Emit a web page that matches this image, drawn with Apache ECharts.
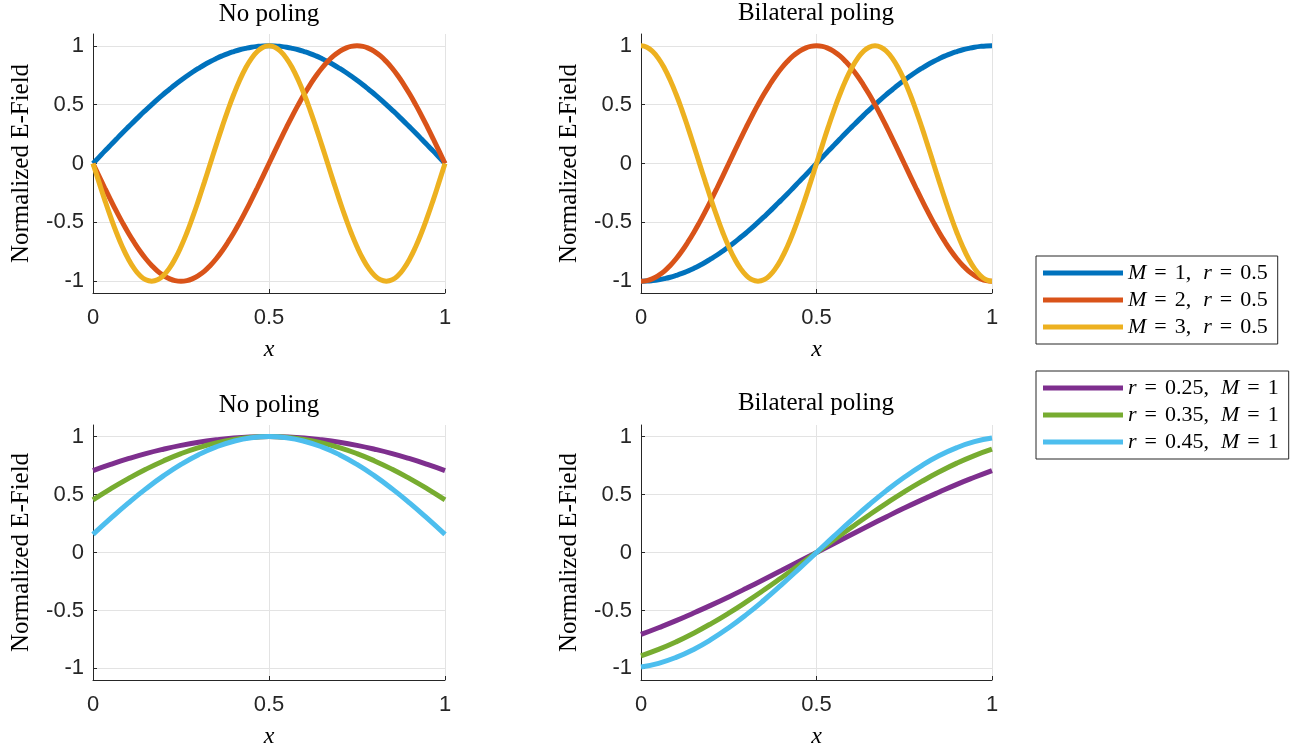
<!DOCTYPE html>
<html>
<head>
<meta charset="utf-8">
<script src="https://cdn.jsdelivr.net/npm/echarts@6/dist/echarts.min.js"></script>
<style>html,body{margin:0;padding:0;background:#fff;}#c{width:1304px;height:750px;}</style>
</head>
<body>
<div id="c"></div>
<script>
// x sample positions
var x60 = [0,0.0167,0.0333,0.05,0.0667,0.0833,0.1,0.1167,0.1333,0.15,0.1667,0.1833,0.2,0.2167,0.2333,0.25,0.2667,0.2833,0.3,0.3167,0.3333,0.35,0.3667,0.3833,0.4,0.4167,0.4333,0.45,0.4667,0.4833,0.5,0.5167,0.5333,0.55,0.5667,0.5833,0.6,0.6167,0.6333,0.65,0.6667,0.6833,0.7,0.7167,0.7333,0.75,0.7667,0.7833,0.8,0.8167,0.8333,0.85,0.8667,0.8833,0.9,0.9167,0.9333,0.95,0.9667,0.9833,1];
var x20 = [0,0.05,0.1,0.15,0.2,0.25,0.3,0.35,0.4,0.45,0.5,0.55,0.6,0.65,0.7,0.75,0.8,0.85,0.9,0.95,1];

// Top-left: No poling, r = 0.5
var noPolM1 = [0,0.052,0.105,0.156,0.208,0.259,0.309,0.358,0.407,0.454,0.5,0.545,0.588,0.629,0.669,0.707,0.743,0.777,0.809,0.839,0.866,0.891,0.914,0.934,0.951,0.966,0.978,0.988,0.995,0.999,1,0.999,0.995,0.988,0.978,0.966,0.951,0.934,0.914,0.891,0.866,0.839,0.809,0.777,0.743,0.707,0.669,0.629,0.588,0.545,0.5,0.454,0.407,0.358,0.309,0.259,0.208,0.156,0.105,0.052,0];
var noPolM2 = [0,-0.105,-0.208,-0.309,-0.407,-0.5,-0.588,-0.669,-0.743,-0.809,-0.866,-0.914,-0.951,-0.978,-0.995,-1,-0.995,-0.978,-0.951,-0.914,-0.866,-0.809,-0.743,-0.669,-0.588,-0.5,-0.407,-0.309,-0.208,-0.105,0,0.105,0.208,0.309,0.407,0.5,0.588,0.669,0.743,0.809,0.866,0.914,0.951,0.978,0.995,1,0.995,0.978,0.951,0.914,0.866,0.809,0.743,0.669,0.588,0.5,0.407,0.309,0.208,0.105,0];
var noPolM3 = [0,-0.156,-0.309,-0.454,-0.588,-0.707,-0.809,-0.891,-0.951,-0.988,-1,-0.988,-0.951,-0.891,-0.809,-0.707,-0.588,-0.454,-0.309,-0.156,0,0.156,0.309,0.454,0.588,0.707,0.809,0.891,0.951,0.988,1,0.988,0.951,0.891,0.809,0.707,0.588,0.454,0.309,0.156,0,-0.156,-0.309,-0.454,-0.588,-0.707,-0.809,-0.891,-0.951,-0.988,-1,-0.988,-0.951,-0.891,-0.809,-0.707,-0.588,-0.454,-0.309,-0.156,0];

// Top-right: Bilateral poling, r = 0.5
var biPolM1 = [-1,-0.999,-0.995,-0.988,-0.978,-0.966,-0.951,-0.934,-0.914,-0.891,-0.866,-0.839,-0.809,-0.777,-0.743,-0.707,-0.669,-0.629,-0.588,-0.545,-0.5,-0.454,-0.407,-0.358,-0.309,-0.259,-0.208,-0.156,-0.105,-0.052,0,0.052,0.105,0.156,0.208,0.259,0.309,0.358,0.407,0.454,0.5,0.545,0.588,0.629,0.669,0.707,0.743,0.777,0.809,0.839,0.866,0.891,0.914,0.934,0.951,0.966,0.978,0.988,0.995,0.999,1];
var biPolM2 = [-1,-0.995,-0.978,-0.951,-0.914,-0.866,-0.809,-0.743,-0.669,-0.588,-0.5,-0.407,-0.309,-0.208,-0.105,0,0.105,0.208,0.309,0.407,0.5,0.588,0.669,0.743,0.809,0.866,0.914,0.951,0.978,0.995,1,0.995,0.978,0.951,0.914,0.866,0.809,0.743,0.669,0.588,0.5,0.407,0.309,0.208,0.105,0,-0.105,-0.208,-0.309,-0.407,-0.5,-0.588,-0.669,-0.743,-0.809,-0.866,-0.914,-0.951,-0.978,-0.995,-1];
var biPolM3 = [1,0.988,0.951,0.891,0.809,0.707,0.588,0.454,0.309,0.156,0,-0.156,-0.309,-0.454,-0.588,-0.707,-0.809,-0.891,-0.951,-0.988,-1,-0.988,-0.951,-0.891,-0.809,-0.707,-0.588,-0.454,-0.309,-0.156,0,0.156,0.309,0.454,0.588,0.707,0.809,0.891,0.951,0.988,1,0.988,0.951,0.891,0.809,0.707,0.588,0.454,0.309,0.156,0,-0.156,-0.309,-0.454,-0.588,-0.707,-0.809,-0.891,-0.951,-0.988,-1];

// Bottom-left: No poling, M = 1
var noPolR25 = [0.707,0.760,0.809,0.853,0.891,0.924,0.951,0.972,0.988,0.997,1,0.997,0.988,0.972,0.951,0.924,0.891,0.853,0.809,0.760,0.707];
var noPolR35 = [0.454,0.549,0.637,0.718,0.790,0.853,0.905,0.946,0.976,0.994,1,0.994,0.976,0.946,0.905,0.853,0.790,0.718,0.637,0.549,0.454];
var noPolR45 = [0.156,0.294,0.426,0.549,0.661,0.760,0.844,0.911,0.960,0.990,1,0.990,0.960,0.911,0.844,0.760,0.661,0.549,0.426,0.294,0.156];

// Bottom-right: Bilateral poling, M = 1
var biPolR25 = [-0.707,-0.649,-0.588,-0.522,-0.454,-0.383,-0.309,-0.233,-0.156,-0.078,0,0.078,0.156,0.233,0.309,0.383,0.454,0.522,0.588,0.649,0.707];
var biPolR35 = [-0.891,-0.836,-0.771,-0.696,-0.613,-0.523,-0.426,-0.324,-0.218,-0.110,0,0.110,0.218,0.324,0.426,0.523,0.613,0.696,0.771,0.836,0.891];
var biPolR45 = [-0.988,-0.956,-0.905,-0.836,-0.750,-0.649,-0.536,-0.412,-0.279,-0.141,0,0.141,0.279,0.412,0.536,0.649,0.750,0.836,0.905,0.956,0.988];

var yTicks = [-1,-0.5,0,0.5,1];
var titles = ['No poling','Bilateral poling','No poling','Bilateral poling'];
var legendTop = ['M = 1, r = 0.5','M = 2, r = 0.5','M = 3, r = 0.5'];
var legendBottom = ['r = 0.25, M = 1','r = 0.35, M = 1','r = 0.45, M = 1'];
var colorsTop = ['#0072BD','#D95319','#EDB120'];
var colorsBottom = ['#7E2F8E','#77AC30','#4DBEEE'];

var SERIF = '"Liberation Serif", "DejaVu Serif", serif';
var SANS = '"Liberation Sans", Arial, sans-serif';
var AX = '#262626';

function pairs(xs, ys){ return xs.map(function(x,i){ return [x, ys[i]]; }); }

var grids = [
  {left:93, top:34, width:352, height:259},
  {left:641, top:34, width:351, height:259},
  {left:93, top:425, width:352, height:256},
  {left:641, top:425, width:351, height:256}
];
var titleTops = [2, 1, 393, 391];
var titleCenters = [269, 816, 269, 816];

var xAxes = [], yAxes = [], titleOpts = [];
for (var g=0; g<4; g++){
  xAxes.push({
    gridIndex:g, type:'value', min:0, max:1, interval:0.5,
    axisLine:{show:true, onZero:false, lineStyle:{color:AX, width:1}},
    axisTick:{show:true, inside:true, length:4, lineStyle:{color:AX}},
    axisLabel:{color:AX, fontSize:22, fontFamily:SANS, margin:14},
    splitLine:{show:true, lineStyle:{color:'#e3e3e3', width:1}},
    name:'x', nameLocation:'middle', nameGap:45,
    nameTextStyle:{fontFamily:SERIF, fontStyle:'italic', fontSize:24, color:'#000'}
  });
  yAxes.push({
    gridIndex:g, type:'value', min:-1.1, max:1.1,
    axisLine:{show:true, onZero:false, lineStyle:{color:AX, width:1}},
    axisTick:{show:true, inside:true, length:4, lineStyle:{color:AX}, customValues:yTicks},
    axisLabel:{color:AX, fontSize:22, fontFamily:SANS, margin:9, customValues:yTicks},
    splitLine:{show:true, lineStyle:{color:'#e3e3e3', width:1}},
    name:'Normalized E-Field', nameLocation:'middle', nameGap:59,
    nameTextStyle:{fontFamily:SERIF, fontSize:25, color:'#000'}
  });
  titleOpts.push({
    text:titles[g], left:titleCenters[g], top:titleTops[g], textAlign:'center', padding:0,
    textStyle:{fontFamily:SERIF, fontWeight:'normal', fontSize:25, color:'#000'}
  });
}

function mk(name, xs, ys, color, gi){
  return {
    name:name, type:'line', xAxisIndex:gi, yAxisIndex:gi,
    data:pairs(xs, ys), showSymbol:false, symbol:'none', smooth:true,
    lineStyle:{color:color, width:5}, itemStyle:{color:color},
    emphasis:{disabled:true}, silent:true, z:3
  };
}

var series = [
  mk(legendTop[0], x60, noPolM1, colorsTop[0], 0),
  mk(legendTop[1], x60, noPolM2, colorsTop[1], 0),
  mk(legendTop[2], x60, noPolM3, colorsTop[2], 0),
  mk(legendTop[0]+' ', x60, biPolM1, colorsTop[0], 1),
  mk(legendTop[1]+' ', x60, biPolM2, colorsTop[1], 1),
  mk(legendTop[2]+' ', x60, biPolM3, colorsTop[2], 1),
  mk(legendBottom[0], x20, noPolR25, colorsBottom[0], 2),
  mk(legendBottom[1], x20, noPolR35, colorsBottom[1], 2),
  mk(legendBottom[2], x20, noPolR45, colorsBottom[2], 2),
  mk(legendBottom[0]+' ', x20, biPolR25, colorsBottom[0], 3),
  mk(legendBottom[1]+' ', x20, biPolR35, colorsBottom[1], 3),
  mk(legendBottom[2]+' ', x20, biPolR45, colorsBottom[2], 3)
];

function richName(name){
  // "M = 1, r = 0.5" -> italic variables, spaced equals signs
  return name.split(', ').map(function(part){
    var kv = part.split(' = ');
    return '{i|' + kv[0] + '}{e|=}{n|' + kv[1] + '}';
  }).join('{c|,}');
}
var FS = 22;
var legendText = {
  fontFamily:SERIF, fontSize:FS, color:'#000', lineHeight:22,
  rich:{
    i:{fontFamily:SERIF, fontStyle:'italic', fontSize:FS, color:'#000', lineHeight:22},
    e:{fontFamily:SERIF, fontSize:FS, color:'#000', lineHeight:22, padding:[0,8,0,8]},
    n:{fontFamily:SERIF, fontSize:FS, color:'#000', lineHeight:22},
    c:{fontFamily:SERIF, fontSize:FS, color:'#000', lineHeight:22, padding:[0,12,0,0]}
  }
};
function legendOpt(names, top){
  return {
    data:names, orient:'vertical', left:1036, top:top,
    icon:'rect', itemWidth:80, itemHeight:5, itemGap:5,
    padding:[6,10,6,7], borderColor:AX, borderWidth:1, borderRadius:0,
    backgroundColor:'#fff', selectedMode:false,
    formatter:function(n){ return richName(n); },
    textStyle:legendText
  };
}

var chart = echarts.init(document.getElementById('c'), null, {renderer:'canvas'});
chart.setOption({
  animation:false,
  backgroundColor:'#fff',
  title:titleOpts,
  grid:grids,
  xAxis:xAxes,
  yAxis:yAxes,
  legend:[legendOpt(legendTop, 256), legendOpt(legendBottom, 371)],
  series:series
});
</script>
</body>
</html>
